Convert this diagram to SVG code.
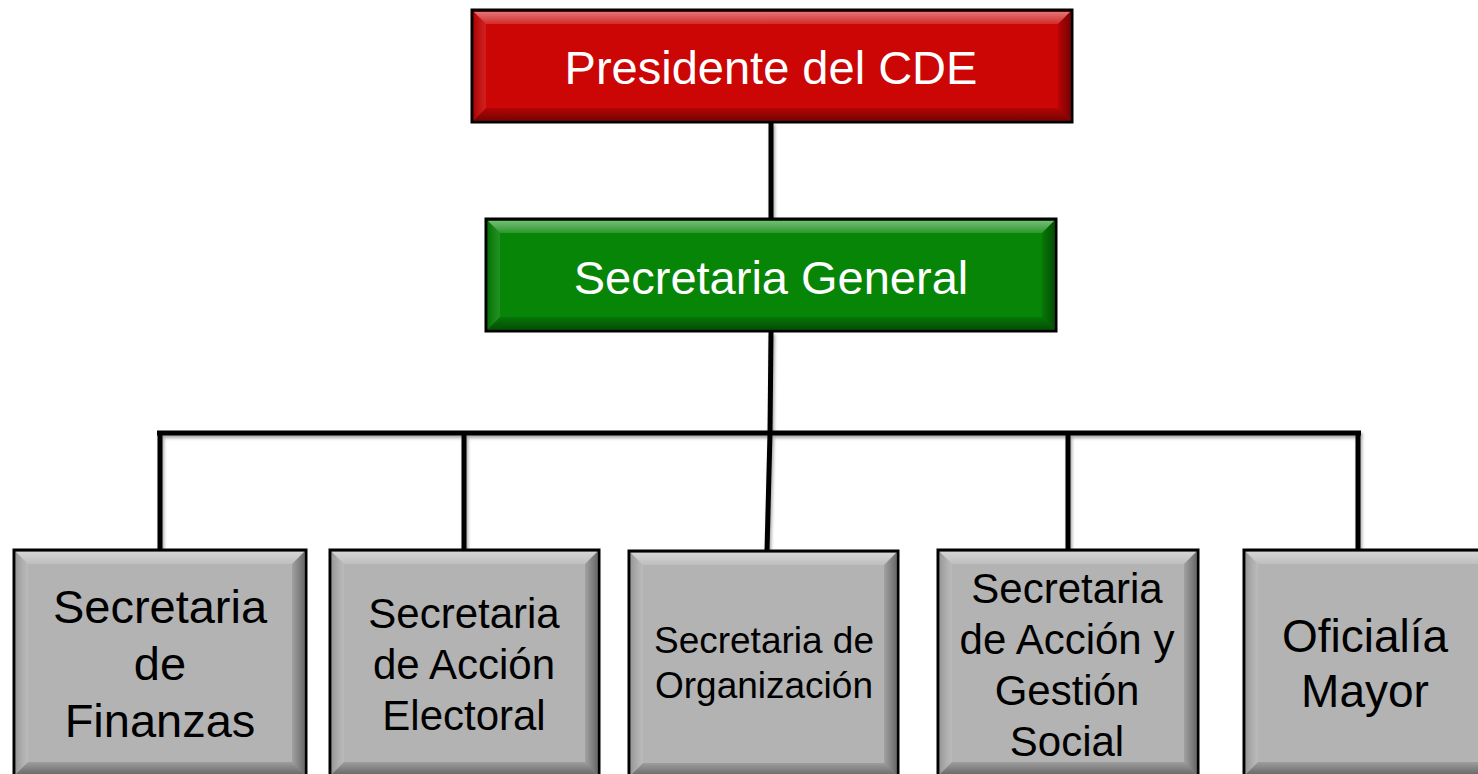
<svg xmlns="http://www.w3.org/2000/svg" width="1478" height="774" viewBox="0 0 1478 774">
<defs>
<filter id="sh" filterUnits="userSpaceOnUse" x="0" y="0" width="1478" height="774">
<feDropShadow dx="1.5" dy="2.5" stdDeviation="1.5" flood-color="#000" flood-opacity="0.35"/>
</filter>
<linearGradient id="gt" x1="0" y1="0" x2="0" y2="1"><stop offset="0" stop-color="#fff" stop-opacity="0.45"/><stop offset="1" stop-color="#fff" stop-opacity="0.15"/></linearGradient>
<linearGradient id="gb" x1="0" y1="0" x2="0" y2="1"><stop offset="0" stop-color="#000" stop-opacity="0.12"/><stop offset="1" stop-color="#000" stop-opacity="0.4"/></linearGradient>
<linearGradient id="gl" x1="0" y1="0" x2="1" y2="0"><stop offset="0" stop-color="#000" stop-opacity="0.15"/><stop offset="1" stop-color="#fff" stop-opacity="0.1"/></linearGradient>
<linearGradient id="gr" x1="0" y1="0" x2="1" y2="0"><stop offset="0" stop-color="#000" stop-opacity="0.1"/><stop offset="1" stop-color="#000" stop-opacity="0.4"/></linearGradient>
</defs>
<style>
.frame{stroke:#000;stroke-width:3}
.red{fill:#CC0505}
.green{fill:#078507}
.gray{fill:#B3B3B3}
.bt{fill:url(#gt)}
.bb{fill:url(#gb)}
.bl{fill:url(#gl)}
.br{fill:url(#gr)}
.conn{fill:none;stroke:#000;stroke-width:5}
text{font-family:"Liberation Sans",Arial,sans-serif;text-anchor:middle}
.w{fill:#fff}
.k{fill:#000}
</style>
<g id="connectors" filter="url(#sh)">
<path class="conn" d="M771,122 V218"/>
<path class="conn" d="M771,332 L770,433"/>
<path class="conn" d="M157,433 H1361"/>
<path class="conn" d="M160,433 V550"/>
<path class="conn" d="M464,433 V550"/>
<path class="conn" d="M770,433 L767,551"/>
<path class="conn" d="M1068,433 V550"/>
<path class="conn" d="M1358,433 V550"/>
</g>
<g id="presidente">
<rect class="frame red" x="472" y="10" width="600" height="112"/>
<polygon class="bt" points="474,12 1070,12 1058,24 486,24"/>
<polygon class="bb" points="474,120 1070,120 1058,108 486,108"/>
<polygon class="bl" points="474,12 486,24 486,108 474,120"/>
<polygon class="br" points="1070,12 1058,24 1058,108 1070,120"/>
<text class="w" x="771" y="84" font-size="47">Presidente del CDE</text>
</g>
<g id="secretaria-general">
<rect class="frame green" x="486" y="219" width="570" height="112"/>
<polygon class="bt" points="488,221 1054,221 1042,233 500,233"/>
<polygon class="bb" points="488,329 1054,329 1042,317 500,317"/>
<polygon class="bl" points="488,221 500,233 500,317 488,329"/>
<polygon class="br" points="1054,221 1042,233 1042,317 1054,329"/>
<text class="w" x="771" y="294" font-size="47">Secretaria General</text>
</g>
<g id="finanzas">
<rect class="frame gray" x="14" y="550" width="292" height="226"/>
<polygon class="bt" points="16,552 304,552 292,564 28,564"/>
<polygon class="bb" points="16,774 304,774 292,762 28,762"/>
<polygon class="bl" points="16,552 28,564 28,762 16,774"/>
<polygon class="br" points="304,552 292,564 292,762 304,774"/>
<text class="k" font-size="47"><tspan x="160" y="623">Secretaria</tspan><tspan x="160" y="680">de</tspan><tspan x="160" y="737">Finanzas</tspan></text>
</g>
<g id="accion-electoral">
<rect class="frame gray" x="330" y="550" width="269" height="226"/>
<polygon class="bt" points="332,552 597,552 585,564 344,564"/>
<polygon class="bb" points="332,774 597,774 585,762 344,762"/>
<polygon class="bl" points="332,552 344,564 344,762 332,774"/>
<polygon class="br" points="597,552 585,564 585,762 597,774"/>
<text class="k" font-size="42"><tspan x="464" y="628">Secretaria</tspan><tspan x="464" y="679">de Acción</tspan><tspan x="464" y="730">Electoral</tspan></text>
</g>
<g id="organizacion">
<rect class="frame gray" x="629" y="551" width="269" height="226"/>
<polygon class="bt" points="631,553 896,553 884,565 643,565"/>
<polygon class="bb" points="631,775 896,775 884,763 643,763"/>
<polygon class="bl" points="631,553 643,565 643,763 631,775"/>
<polygon class="br" points="896,553 884,565 884,763 896,775"/>
<text class="k" font-size="37"><tspan x="764" y="653">Secretaria de</tspan><tspan x="764" y="698">Organización</tspan></text>
</g>
<g id="accion-gestion-social">
<rect class="frame gray" x="938" y="550" width="260" height="226"/>
<polygon class="bt" points="940,552 1196,552 1184,564 952,564"/>
<polygon class="bb" points="940,774 1196,774 1184,762 952,762"/>
<polygon class="bl" points="940,552 952,564 952,762 940,774"/>
<polygon class="br" points="1196,552 1184,564 1184,762 1196,774"/>
<text class="k" font-size="42"><tspan x="1067" y="603">Secretaria</tspan><tspan x="1067" y="654">de Acción y</tspan><tspan x="1067" y="705">Gestión</tspan><tspan x="1067" y="756">Social</tspan></text>
</g>
<g id="oficialia-mayor">
<rect class="frame gray" x="1244" y="550" width="250" height="226"/>
<polygon class="bt" points="1246,552 1492,552 1480,564 1258,564"/>
<polygon class="bb" points="1246,774 1492,774 1480,762 1258,762"/>
<polygon class="bl" points="1246,552 1258,564 1258,762 1246,774"/>
<text class="k" font-size="46"><tspan x="1365" y="652">Oficialía</tspan><tspan x="1365" y="707">Mayor</tspan></text>
</g>
</svg>
